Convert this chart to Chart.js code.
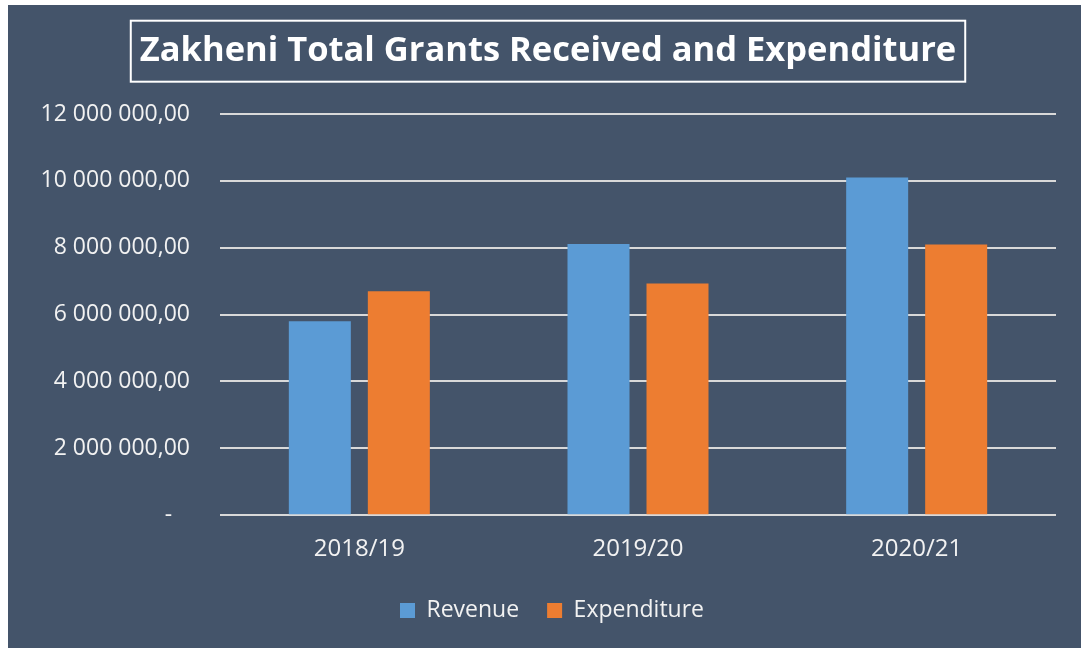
<!DOCTYPE html>
<html lang="en">
<head>
    <meta charset="UTF-8">
    <title>Zakheni Total Grants Received and Expenditure</title>
    <script src="https://cdn.jsdelivr.net/npm/chart.js"></script>
    <style>
        html, body {
            margin: 0;
            padding: 0;
            background: #ffffff;
        }

        .chart-box {
            position: absolute;
            left: 8px;
            top: 5px;
            width: 1073px;
            height: 643px;
            background: #44546a;
        }
    </style>
</head>
<body>
    <div class="chart-box"><canvas id="grants-chart"></canvas></div>
    <script>
        // data
        const years = ['2018/19', '2019/20', '2020/21'];
        const revenue = [5800000, 8110000, 10100000];
        const expenditure = [6700000, 6930000, 8100000];
        const yMax = 12000000;
        const yStep = 2000000;

        const chartTitle = 'Zakheni Total Grants Received and Expenditure';
        const fontName = '"Open Sans", Lato, sans-serif';
        const textColor = '#f2f2f2';
        const titleSize = 34.5;
        const titlePadTop = 25;

        // 12 000 000,00 style, zero shown as a dash
        function formatAmount(v) {
            if (v === 0) return '-   ';
            const whole = Math.round(v).toString().replace(/\B(?=(\d{3})+(?!\d))/g, ' ');
            return whole + ',00';
        }

        // white frame round the title
        const titleFrame = {
            id: 'titleFrame',
            afterDraw(chart) {
                const t = chart.titleBlock;
                const ctx = chart.ctx;
                ctx.save();
                ctx.font = 'bold ' + titleSize + 'px ' + fontName;
                const w = ctx.measureText(chartTitle).width;
                const cx = (t.left + t.right) / 2;
                const cy = t.top + titlePadTop + titleSize * 1.2 / 2;
                ctx.strokeStyle = '#ffffff';
                ctx.lineWidth = 2;
                ctx.strokeRect(cx - w / 2 - 9, cy - 30, w + 18, 61);
                ctx.restore();
            }
        };

        // title and legend sit a little right of the canvas centre in the original,
        // and the legend padding also sets the item gap, so move both after layout
        const blockNudge = {
            id: 'blockNudge',
            afterLayout(chart) {
                const t = chart.titleBlock;
                if (t) {
                    t.left += 16;
                    t.right += 16;
                }
                const l = chart.legend;
                if (l) {
                    l.left += 20;
                    l.right += 20;
                    l.top -= 13;
                    l.bottom -= 13;
                }
            }
        };

        const ctx = document.getElementById('grants-chart').getContext('2d');
        const grantsChart = new Chart(ctx, {
            type: 'bar',
            data: {
                labels: years,
                datasets: [{
                    label: 'Revenue',
                    data: revenue,
                    backgroundColor: '#5b9bd5'
                }, {
                    label: 'Expenditure',
                    data: expenditure,
                    backgroundColor: '#ed7d31'
                }]
            },
            options: {
                responsive: true,
                maintainAspectRatio: false,
                animation: false,
                layout: {
                    padding: { left: 0, right: 25, top: 0, bottom: 3 }
                },
                datasets: {
                    bar: {
                        barPercentage: 0.785,
                        categoryPercentage: 0.567
                    }
                },
                scales: {
                    x: {
                        grid: { display: false, drawTicks: false },
                        border: { display: false },
                        ticks: {
                            color: textColor,
                            padding: 20,
                            font: { family: fontName, size: 24 }
                        }
                    },
                    y: {
                        min: 0,
                        max: yMax,
                        afterFit(scale) {
                            scale.width = 212;
                        },
                        grid: { color: '#d9d9d9', lineWidth: 2, drawTicks: false },
                        border: { display: false },
                        ticks: {
                            stepSize: yStep,
                            color: textColor,
                            padding: 30,
                            font: { family: fontName, size: 23 },
                            callback: v => formatAmount(v)
                        }
                    }
                },
                plugins: {
                    title: {
                        display: true,
                        text: chartTitle,
                        color: '#ffffff',
                        font: { family: fontName, size: titleSize, weight: 'bold' },
                        padding: { top: titlePadTop, bottom: 42.6 }
                    },
                    legend: {
                        position: 'bottom',
                        labels: {
                            color: textColor,
                            boxWidth: 15,
                            boxHeight: 15,
                            padding: 28,
                            font: { family: fontName, size: 23 }
                        }
                    },
                    tooltip: { enabled: false }
                }
            },
            plugins: [titleFrame, blockNudge]
        });
    </script>
</body>
</html>
